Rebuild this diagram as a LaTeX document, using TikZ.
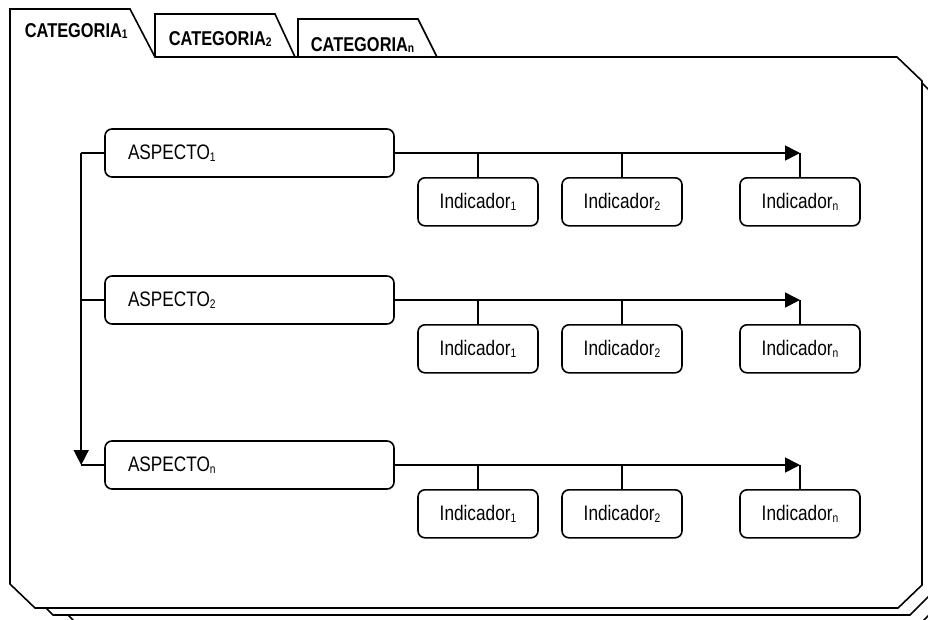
\documentclass[tikz,border=0pt]{standalone}
\usepackage{fontspec}
\setmainfont{Liberation Sans}[FakeStretch=0.82]
\usetikzlibrary{arrows.meta}
% small lowered index, about six tenths of the text size
\newcommand{\lowidx}[1]{\raisebox{-1.6pt}{\fontsize{12.5}{13}\selectfont #1}}
\begin{document}
\begin{tikzpicture}[x=1pt,y=-1pt,
  line width=1.6pt, line join=miter,
  page/.style={draw=black, fill=white, line width=1.6pt},
  tabtext/.style={anchor=base west, inner sep=0pt, font=\fontsize{20}{24}\selectfont\bfseries},
  box/.style={draw, fill=white, rounded corners=7pt, minimum height=48pt, inner sep=0pt},
  aspbox/.style={box, minimum width=289pt, text width=243pt, align=left, font=\fontsize{21}{25}\selectfont},
  indbox/.style={box, minimum width=120pt, align=center, font=\fontsize{21}{25}\selectfont},
  arrow/.style={-{Triangle[length=15pt,width=15pt]}}]
\useasboundingbox (0,0) rectangle (928,619);
\fill[white] (0,0) rectangle (928,619);

% stacked sheets behind the folder
\draw[page] (50,90) -- (50,597) -- (75,622) -- (922,622) -- (947,597) -- (947,90) -- cycle;
\draw[page] (28,72) -- (28,590) -- (53,615) -- (910,615) -- (935,590) -- (935,96) -- (911,72) -- cycle;

% back tabs
\draw[page] (155,57) -- (155,14) -- (275,14) -- (295,57);
\draw[page] (298,57) -- (298,19) -- (418,19) -- (437,57);

% front sheet with the active tab
\draw[page] (10,584) -- (10,9) -- (130,9) -- (155,57) -- (897,57) -- (922,81)
  -- (922,585) -- (898,608) -- (35,608) -- cycle;

\node[tabtext] (t1) at (24,37) {CATEGORIA\lowidx{1}};
\node[tabtext] (t2) at (168,45) {CATEGORIA\lowidx{2}};
\node[tabtext] (tn) at (310,51) {CATEGORIA\lowidx{n}};

% aspects with their indicators
\foreach \r/\y in {1/153, 2/300, n/465} {
  \node[aspbox] (a\r) at (249.5,\y) {ASPECTO\lowidx{\r}};
  \node[indbox, anchor=north] (ind-\r-1) at (478,\y+24) {Indicador\lowidx{1}};
  \node[indbox, anchor=north] (ind-\r-2) at (622,\y+24) {Indicador\lowidx{2}};
  \node[indbox, anchor=north] (ind-\r-n) at (800,\y+24) {Indicador\lowidx{n}};
  \draw[arrow] (a\r.east) -- (a\r.east -| ind-\r-n.north);
  \draw (ind-\r-1.north) -- (ind-\r-1.north |- a\r.east);
  \draw (ind-\r-2.north) -- (ind-\r-2.north |- a\r.east);
  \draw (ind-\r-n.north) -- (ind-\r-n.north |- a\r.east);
}

% bracket joining the aspects
\coordinate (br-top) at ([xshift=-23pt]a1.west);
\coordinate (br-bot) at (br-top |- an.west);
\draw (a1.west) -- (br-top);
\draw[arrow] (br-top) -- (br-bot);
\draw (a2.west) -- (a2.west -| br-top);
\draw (an.west) -- (br-bot);
\end{tikzpicture}
\end{document}
